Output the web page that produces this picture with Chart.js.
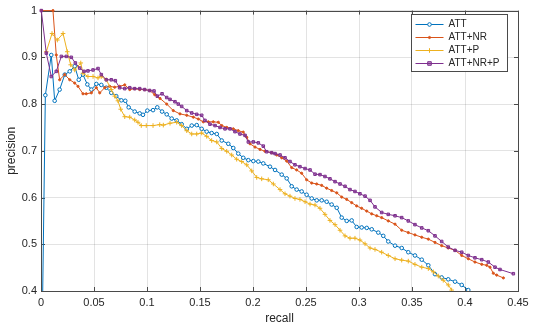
<!DOCTYPE html>
<html>
<head>
<meta charset="utf-8">
<script src="https://cdn.jsdelivr.net/npm/chart.js@4/dist/chart.umd.min.js"></script>
<style>
html,body{margin:0;padding:0;background:#fff;}
#wrap{width:545px;height:330px;}
</style>
</head>
<body>
<div id="wrap"><canvas id="c" width="545" height="330"></canvas></div>
<script>
// ---- data ----
const seriesNames = ["ATT", "ATT+NR", "ATT+P", "ATT+NR+P"];
const xTickValues = [0, 0.05, 0.1, 0.15, 0.2, 0.25, 0.3, 0.35, 0.4, 0.45];
const yTickValues = [0.4, 0.5, 0.6, 0.7, 0.8, 0.9, 1];

const recallATT = [0.0012,0.0041,0.0097,0.0129,0.0176,0.0224,0.0271,0.0318,0.0356,0.0396,0.0437,0.0475,0.0522,0.0569,0.0616,0.0663,0.071,0.0758,0.0795,0.0827,0.0884,0.0931,0.0962,0.1003,0.1057,0.1097,0.1142,0.1186,0.1233,0.128,0.1327,0.1375,0.1422,0.1469,0.1516,0.1563,0.161,0.1658,0.1705,0.1767,0.1814,0.1861,0.1908,0.1956,0.2003,0.205,0.2097,0.216,0.2208,0.2271,0.2318,0.2365,0.2412,0.2459,0.2506,0.2554,0.2601,0.2648,0.2695,0.2742,0.279,0.2837,0.2884,0.2931,0.2978,0.3025,0.3073,0.312,0.3182,0.3229,0.3276,0.334,0.3403,0.3465,0.3528,0.3592,0.3654,0.3717,0.378,0.3842,0.3906,0.3969,0.4031];
const precATT = [0.33,0.819,0.905,0.807,0.831,0.863,0.870,0.881,0.852,0.863,0.842,0.831,0.843,0.841,0.835,0.824,0.817,0.808,0.807,0.793,0.784,0.780,0.777,0.786,0.787,0.793,0.784,0.778,0.769,0.765,0.757,0.747,0.754,0.755,0.747,0.741,0.738,0.736,0.722,0.715,0.706,0.694,0.685,0.680,0.678,0.677,0.673,0.666,0.659,0.649,0.641,0.624,0.617,0.613,0.606,0.598,0.594,0.594,0.591,0.585,0.578,0.557,0.550,0.551,0.537,0.536,0.535,0.532,0.525,0.518,0.506,0.497,0.492,0.483,0.476,0.467,0.455,0.436,0.429,0.425,0.420,0.413,0.402];

const recallNR = [0.0005,0.0113,0.0144,0.0176,0.0224,0.0271,0.0318,0.0349,0.0396,0.0427,0.0475,0.0522,0.0554,0.0601,0.0648,0.0695,0.0742,0.079,0.0837,0.0884,0.0931,0.0978,0.1025,0.1073,0.1123,0.1186,0.1248,0.1311,0.1375,0.1437,0.1484,0.1531,0.1578,0.1625,0.1673,0.1705,0.1752,0.1814,0.1861,0.1908,0.1941,0.1972,0.2019,0.2066,0.2113,0.2176,0.2224,0.2271,0.2318,0.2365,0.2412,0.2459,0.2506,0.2554,0.2601,0.2648,0.2695,0.2742,0.279,0.2837,0.2884,0.2931,0.2978,0.3025,0.3073,0.312,0.3167,0.3214,0.3276,0.334,0.3403,0.3465,0.3528,0.3592,0.3654,0.3717,0.378,0.3842,0.3906,0.3969,0.4031,0.4094,0.4158,0.4205,0.4236,0.4267,0.4299,0.4362];
const precNR = [1.0,1.0,0.905,0.852,0.863,0.852,0.845,0.838,0.822,0.822,0.824,0.835,0.824,0.835,0.838,0.836,0.838,0.841,0.831,0.833,0.831,0.831,0.829,0.820,0.812,0.800,0.786,0.779,0.776,0.772,0.768,0.762,0.762,0.762,0.761,0.754,0.750,0.747,0.743,0.740,0.729,0.715,0.708,0.703,0.699,0.696,0.691,0.685,0.678,0.664,0.659,0.652,0.638,0.631,0.629,0.626,0.620,0.615,0.610,0.601,0.596,0.589,0.582,0.577,0.571,0.565,0.561,0.557,0.550,0.543,0.530,0.525,0.520,0.515,0.511,0.504,0.497,0.492,0.487,0.476,0.469,0.462,0.457,0.455,0.451,0.438,0.434,0.428];

const recallP = [0.005,0.0104,0.0154,0.0208,0.0248,0.028,0.0318,0.0375,0.0396,0.0443,0.0491,0.0538,0.0569,0.0616,0.0663,0.0695,0.0726,0.0752,0.079,0.0837,0.0884,0.0915,0.0946,0.0993,0.1057,0.112,0.1154,0.1217,0.128,0.1327,0.1375,0.1422,0.1469,0.1516,0.1563,0.161,0.1658,0.1705,0.1752,0.1799,0.1846,0.1893,0.1941,0.1988,0.2035,0.2082,0.2144,0.2192,0.2255,0.2302,0.2349,0.2396,0.2443,0.2491,0.2538,0.2585,0.2632,0.2679,0.2726,0.2774,0.2821,0.2868,0.2915,0.2962,0.3009,0.3057,0.3104,0.3151,0.3214,0.3276,0.334,0.3403,0.3465,0.3528,0.3592,0.3654,0.3701,0.3748,0.3795,0.3842,0.3874];
const precP = [0.912,0.951,0.937,0.951,0.912,0.884,0.873,0.888,0.866,0.859,0.859,0.856,0.859,0.852,0.831,0.817,0.807,0.789,0.773,0.772,0.766,0.761,0.754,0.754,0.754,0.756,0.755,0.759,0.761,0.754,0.743,0.736,0.736,0.738,0.731,0.722,0.719,0.705,0.699,0.691,0.682,0.677,0.670,0.657,0.643,0.640,0.638,0.629,0.617,0.608,0.603,0.598,0.596,0.591,0.586,0.584,0.577,0.564,0.551,0.542,0.530,0.518,0.513,0.513,0.509,0.501,0.492,0.489,0.483,0.476,0.469,0.466,0.464,0.457,0.451,0.448,0.441,0.432,0.423,0.413,0.402];

const recallNRP = [0.0003,0.005,0.0097,0.0144,0.0192,0.0239,0.0286,0.0324,0.0365,0.0406,0.0443,0.0491,0.0538,0.0569,0.0616,0.0663,0.0701,0.0742,0.079,0.0837,0.0884,0.0931,0.0978,0.1025,0.1066,0.1097,0.1142,0.1186,0.1217,0.1264,0.1295,0.1327,0.1375,0.1422,0.1469,0.1516,0.1547,0.1594,0.1642,0.1689,0.1736,0.1783,0.183,0.1877,0.1925,0.1956,0.2003,0.205,0.2097,0.2129,0.2176,0.2208,0.2255,0.2302,0.2349,0.2396,0.2443,0.2491,0.2538,0.2585,0.2632,0.2679,0.2726,0.2774,0.2821,0.2868,0.2915,0.2962,0.3009,0.3057,0.3104,0.3151,0.3214,0.3276,0.334,0.3403,0.3465,0.3528,0.3592,0.3654,0.3717,0.378,0.3842,0.3906,0.3969,0.4031,0.4094,0.4158,0.422,0.4283,0.433,0.4456];
const precNRP = [1.0,0.909,0.859,0.870,0.902,0.902,0.900,0.888,0.877,0.870,0.871,0.873,0.876,0.863,0.852,0.852,0.850,0.835,0.833,0.835,0.833,0.833,0.831,0.829,0.828,0.817,0.822,0.814,0.810,0.805,0.800,0.795,0.786,0.781,0.778,0.776,0.765,0.757,0.754,0.750,0.747,0.747,0.741,0.736,0.733,0.719,0.719,0.717,0.710,0.698,0.696,0.694,0.691,0.685,0.677,0.670,0.666,0.662,0.659,0.650,0.649,0.645,0.640,0.634,0.629,0.624,0.617,0.613,0.608,0.603,0.594,0.580,0.568,0.564,0.561,0.557,0.550,0.542,0.535,0.529,0.518,0.506,0.494,0.487,0.483,0.476,0.471,0.467,0.462,0.451,0.446,0.437];

// ---- styling ----
const FONT = "'Liberation Sans', Arial, Helvetica, sans-serif";
const TEXT = '#262626';
const AXIS = '#4a4a4a';
const colors = ['#0072BD', '#D95319', '#EDB120', '#7E2F8E'];
const markerStyles = [
  {pointStyle: 'circle', radius: 1.8, bg: '#ffffff'},
  {pointStyle: 'circle', radius: 1.1, bg: '#D95319'},
  {pointStyle: 'cross', radius: 2.3, bg: '#EDB120'},
  {pointStyle: 'rect', radius: 1.8, bg: 'rgba(126,47,142,0.5)'}
];

function pairs(r, p) { return r.map((v, i) => ({x: v, y: p[i]})); }
const seriesData = [pairs(recallATT, precATT), pairs(recallNR, precNR), pairs(recallP, precP), pairs(recallNRP, precNRP)];

const datasets = seriesNames.map((name, i) => ({
  label: name,
  data: seriesData[i],
  showLine: true,
  borderColor: colors[i],
  backgroundColor: markerStyles[i].bg,
  borderWidth: 1,
  pointStyle: markerStyles[i].pointStyle,
  pointRadius: markerStyles[i].radius,
  pointBorderWidth: 1,
  pointBorderColor: colors[i],
  pointBackgroundColor: markerStyles[i].bg,
  tension: 0,
  order: 3 - i,
  clip: {left: 4, top: 4, right: 4, bottom: 0}
}));

function drawMarker(ctx, style, r, cx, cy, fill, stroke) {
  ctx.fillStyle = fill;
  ctx.strokeStyle = stroke;
  ctx.lineWidth = 1;
  ctx.beginPath();
  if (style === 'circle') {
    ctx.arc(cx, cy, r, 0, Math.PI * 2);
    ctx.fill(); ctx.stroke();
  } else if (style === 'rect') {
    ctx.rect(cx - r, cy - r, 2 * r, 2 * r);
    ctx.fill(); ctx.stroke();
  } else {
    ctx.moveTo(cx - r, cy); ctx.lineTo(cx + r, cy);
    ctx.moveTo(cx, cy - r); ctx.lineTo(cx, cy + r);
    ctx.stroke();
  }
}

const matlabAxes = {
  id: 'matlabAxes',
  beforeDatasetsDraw(chart) {
    const {ctx, chartArea: a, scales: {x, y}} = chart;
    ctx.save();
    ctx.strokeStyle = AXIS;
    ctx.lineWidth = 1;
    ctx.beginPath();
    const L = 4;
    xTickValues.forEach(v => {
      const px = Math.round(x.getPixelForValue(v)) + 0.5;
      ctx.moveTo(px, a.bottom); ctx.lineTo(px, a.bottom - L);
      ctx.moveTo(px, a.top); ctx.lineTo(px, a.top + L);
    });
    yTickValues.forEach(v => {
      const py = Math.round(y.getPixelForValue(v)) + 0.5;
      ctx.moveTo(a.left, py); ctx.lineTo(a.left + L, py);
      ctx.moveTo(a.right, py); ctx.lineTo(a.right - L, py);
    });
    ctx.stroke();
    ctx.strokeRect(Math.round(a.left) + 0.5, Math.round(a.top) + 0.5, Math.round(a.right - a.left), Math.round(a.bottom - a.top));
    ctx.restore();
  },
  afterDraw(chart) {
    const {ctx} = chart;
    const bx = 411.5, by = 14.5, bw = 96, bh = 57;
    ctx.save();
    ctx.fillStyle = '#ffffff';
    ctx.fillRect(bx, by, bw, bh);
    ctx.strokeStyle = AXIS;
    ctx.lineWidth = 1;
    ctx.strokeRect(bx, by, bw, bh);
    ctx.font = '10px ' + FONT;
    ctx.textBaseline = 'middle';
    ctx.textAlign = 'left';
    chart.data.datasets.forEach((ds, i) => {
      const yy = Math.round(by + 9 + i * 13) + 0.5;
      ctx.strokeStyle = ds.borderColor;
      ctx.lineWidth = 1;
      ctx.beginPath();
      ctx.moveTo(bx + 4, yy);
      ctx.lineTo(bx + 32, yy);
      ctx.stroke();
      drawMarker(ctx, ds.pointStyle, ds.pointRadius, bx + 18, yy, ds.pointBackgroundColor, ds.borderColor);
      ctx.fillStyle = TEXT;
      ctx.fillText(ds.label, bx + 37, yy);
    });
    ctx.restore();
  }
};

new Chart(document.getElementById('c'), {
  type: 'scatter',
  data: {datasets},
  plugins: [matlabAxes],
  options: {
    responsive: false,
    animation: false,
    devicePixelRatio: 1,
    layout: {padding: {left: 0, top: 7, right: 27, bottom: 0}},
    plugins: {legend: {display: false}, tooltip: {enabled: false}},
    scales: {
      x: {
        type: 'linear', min: 0, max: 0.45,
        afterBuildTicks: s => { s.ticks = xTickValues.map(v => ({value: v})); },
        afterFit: s => { s.height = 39; },
        ticks: {
          callback: v => String(v),
          color: TEXT, font: {family: FONT, size: 11}, padding: 5, maxRotation: 0, autoSkip: false
        },
        grid: {color: 'rgba(38,38,38,0.13)', drawTicks: false, lineWidth: 1},
        border: {display: false},
        title: {display: true, text: 'recall', color: TEXT, font: {family: FONT, size: 12}, padding: {top: 0, bottom: 4}}
      },
      y: {
        type: 'linear', min: 0.4, max: 1,
        afterBuildTicks: s => { s.ticks = yTickValues.map(v => ({value: v})); },
        afterFit: s => { s.width = 41; },
        ticks: {
          callback: v => String(v),
          color: TEXT, font: {family: FONT, size: 11}, padding: 4, autoSkip: false
        },
        grid: {color: 'rgba(38,38,38,0.13)', drawTicks: false, lineWidth: 1},
        border: {display: false},
        title: {display: true, text: 'precision', color: TEXT, font: {family: FONT, size: 12}, padding: {top: 4, bottom: 0}}
      }
    }
  }
});
</script>
</body>
</html>
